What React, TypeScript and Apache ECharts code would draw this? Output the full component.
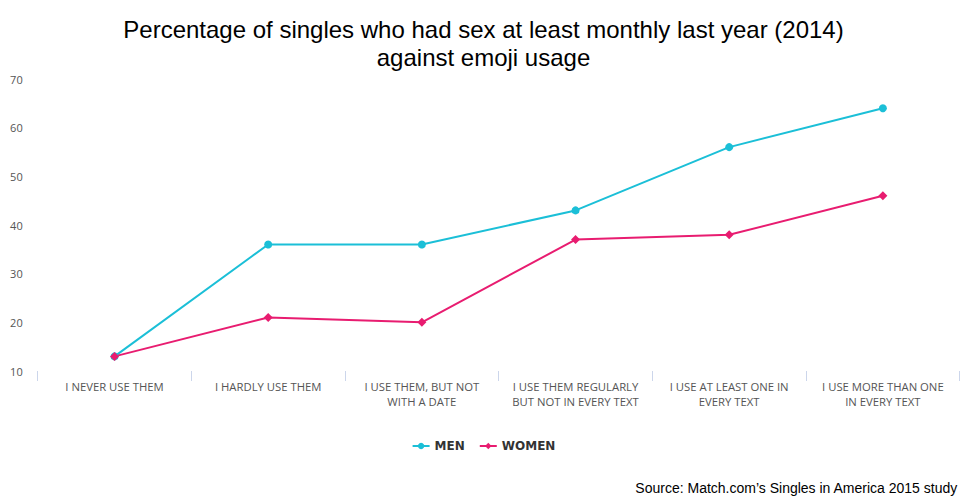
import React, { useEffect, useRef } from "react";
import * as echarts from "echarts";

const categories = [
  "I NEVER USE THEM",
  "I HARDLY USE THEM",
  "I USE THEM, BUT NOT\nWITH A DATE",
  "I USE THEM REGULARLY\nBUT NOT IN EVERY TEXT",
  "I USE AT LEAST ONE IN\nEVERY TEXT",
  "I USE MORE THAN ONE\nIN EVERY TEXT",
];
const menValues = [13, 36, 36, 43, 56, 64];
const womenValues = [13, 21, 20, 37, 38, 46];
const titleText = "Percentage of singles who had sex at least monthly last year (2014)\nagainst emoji usage";
const sourceText = "Source: Match.com\u2019s Singles in America 2015 study";

const MEN_COLOR = "#1bbfd7";
const WOMEN_COLOR = "#e81c70";

export default function App() {
  const ref = useRef<HTMLDivElement>(null);
  useEffect(() => {
    if (!ref.current) return;
    const chart = echarts.init(ref.current, undefined, { renderer: "svg" });
    chart.setOption({
      animation: false,
      backgroundColor: "#ffffff",
      title: {
        text: titleText,
        left: "center",
        top: 10,
        textStyle: {
          fontFamily: "Liberation Sans, Arial, sans-serif",
          fontSize: 24,
          fontWeight: "normal",
          color: "#000000",
          lineHeight: 28,
        },
      },
      legend: {
        data: ["MEN", "WOMEN"],
        left: "center",
        top: 435,
        itemWidth: 17,
        itemHeight: 8,
        itemGap: 14,
        textStyle: {
          fontFamily: "DejaVu Sans, sans-serif",
          fontSize: 12,
          fontWeight: "bold",
          color: "#333333",
        },
      },
      grid: {
        left: 37.7,
        right: 967 - 959.7,
        top: 79,
        bottom: 500 - 371,
        containLabel: false,
      },
      xAxis: {
        type: "category",
        data: categories,
        boundaryGap: true,
        axisLine: { show: false },
        axisTick: { show: true, length: 10, lineStyle: { color: "#ccd6eb", width: 1 } },
        axisLabel: {
          interval: 0,
          margin: 8,
          fontFamily: "Open Sans, DejaVu Sans, sans-serif",
          fontSize: 11.3,
          lineHeight: 15,
          color: "#555555",
        },
        splitLine: { show: false },
      },
      yAxis: {
        type: "value",
        min: 10,
        max: 70,
        interval: 10,
        axisLine: { show: false },
        axisTick: { show: false },
        splitLine: { show: false },
        axisLabel: {
          margin: 15,
          fontFamily: "Open Sans, DejaVu Sans, sans-serif",
          fontSize: 11,
          color: "#555555",
        },
      },
      series: [
        {
          name: "MEN",
          type: "line",
          data: menValues,
          color: MEN_COLOR,
          symbol: "circle",
          symbolSize: 8,
          lineStyle: { width: 2, color: MEN_COLOR },
          itemStyle: { color: MEN_COLOR },
        },
        {
          name: "WOMEN",
          type: "line",
          data: womenValues,
          color: WOMEN_COLOR,
          symbol: "diamond",
          symbolSize: 9,
          lineStyle: { width: 2, color: WOMEN_COLOR },
          itemStyle: { color: WOMEN_COLOR },
        },
      ],
      graphic: [
        {
          type: "text",
          right: 9,
          top: 481,
          style: {
            text: sourceText,
            fontFamily: "Liberation Sans, Arial, sans-serif",
            fontSize: 14,
            fill: "#000000",
          },
        },
      ],
    });
    return () => chart.dispose();
  }, []);
  return (
    <div
      ref={ref}
      style={{ position: "fixed", left: 0, top: 0, width: 967, height: 500 }}
    />
  );
}
